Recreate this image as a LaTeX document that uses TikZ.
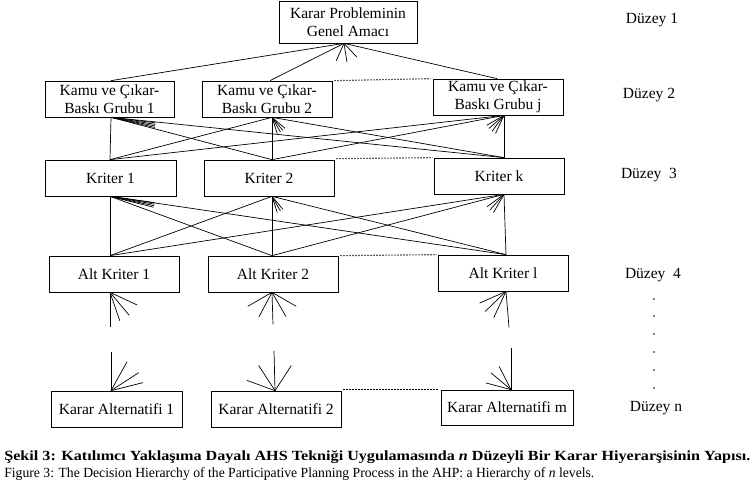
\documentclass[tikz,border=0pt]{standalone}
\usepackage{fontspec}
\setmainfont{Liberation Serif}
\usepackage{graphicx}
\newcommand\fanat[3]{\foreach \a in {#2} {\draw (#1) -- ++(\a:#3);}}
\begin{document}
\begin{tikzpicture}[x=1pt,y=-1pt,
  every path/.style={line width=0.7pt},
  box/.style={draw, line width=0.7pt, inner sep=0pt, align=center, minimum width=130pt, minimum height=36pt, font=\fontsize{15.5}{18}\selectfont},
  lvl/.style={inner sep=0pt, font=\fontsize{15.5}{18}\selectfont},
  dots/.style={dash pattern=on 1.2pt off 1.8pt, line width=1.1pt},
  captext/.style={anchor=west, inner sep=0pt, font=\fontsize{14}{16}\selectfont}]
\useasboundingbox (0,0) rectangle (752,486);
\fill[white] (0,0) rectangle (752,486);

% boxes
\node[box, minimum width=138pt, minimum height=42pt] (t) at (348,22) {Karar Probleminin\\Genel Amacı};
\node[box, minimum width=129pt] (g1) at (109.5,99) {Kamu ve Çıkar-\\Baskı Grubu 1};
\node[box] (g2) at (267,99) {Kamu ve Çıkar-\\Baskı Grubu 2};
\node[box] (gj) at (498,97) {Kamu ve Çıkar-\\Baskı Grubu j};
\node[box, minimum width=131pt] (k1) at (110.5,178) {Kriter 1};
\node[box] (k2) at (269,178) {Kriter 2};
\node[box] (kk) at (499,176) {Kriter k};
\node[box] (a1) at (114,274) {Alt Kriter 1};
\node[box] (a2) at (273,274) {Alt Kriter 2};
\node[box] (al) at (503,273) {Alt Kriter l};
\node[box, minimum width=131pt] (c1) at (116.5,409) {Karar Alternatifi 1};
\node[box] (c2) at (276,409) {Karar Alternatifi 2};
\node[box, minimum width=132pt, minimum height=35pt] (cm) at (507,407.5) {Karar Alternatifi m};

% ports
\coordinate (tS) at ([xshift=-4pt]t.south);
\coordinate (g1N) at ([xshift=1.5pt]g1.north);
\coordinate (g1S) at ([xshift=1.5pt]g1.south);
\coordinate (g2N) at ([xshift=3pt]g2.north);
\coordinate (g2S) at ([xshift=5pt]g2.south);
\coordinate (gjN) at ([xshift=-1pt]gj.north);
\coordinate (gjS) at ([xshift=6pt]gj.south);
\coordinate (k1N) at ([xshift=-0.5pt]k1.north);
\coordinate (k1S) at ([xshift=-0.5pt]k1.south);
\coordinate (k2N) at ([xshift=3pt]k2.north);
\coordinate (k2S) at ([xshift=3pt]k2.south);
\coordinate (kkN) at ([xshift=5pt]kk.north);
\coordinate (kkS) at ([xshift=5pt]kk.south);
\coordinate (a1N) at ([xshift=-4pt]a1.north);
\coordinate (a1S) at ([xshift=-4pt]a1.south);
\coordinate (a2N) at ([xshift=-1pt]a2.north);
\coordinate (a2S) at ([xshift=-1pt]a2.south);
\coordinate (alN) at ([xshift=3pt]al.north);
\coordinate (alS) at ([xshift=3pt]al.south);
\coordinate (c1N) at ([xshift=-5.5pt]c1.north);
\coordinate (c2N) at ([xshift=-1pt]c2.north);
\coordinate (cmN) at ([xshift=4pt]cm.north);

% level 1 -> 2
\foreach \g in {g1N,g2N,gjN} {\draw (tS) -- (\g);}
% level 2 -> 3
\foreach \g in {g1S,g2S,gjS} {\foreach \k in {k1N,k2N,kkN} {\draw (\g) -- (\k);}}
% level 3 -> 4
\foreach \k in {k1S,k2S,kkS} {\foreach \a in {a1N,a2N,alN} {\draw (\k) -- (\a);}}

% stubs between level 4 and n
\coordinate (a1E) at ([yshift=-35pt]a1S);
\coordinate (a2E) at ([xshift=1pt,yshift=-32pt]a2S);
\coordinate (alE) at ([xshift=3pt,yshift=-36pt]alS);
\coordinate (c1E) at ([yshift=39pt]c1N);
\coordinate (c2E) at ([xshift=-1pt,yshift=40pt]c2N);
\coordinate (cmE) at ([yshift=42pt]cmN);
\draw (a1S) -- (a1E);
\draw (a2S) -- (a2E);
\draw (alS) -- (alE);
\draw (c1E) -- (c1N);
\draw (c2E) -- (c2N);
\draw (cmE) -- (cmN);

% fans
\fanat{tS}{114,81,47}{19}
\fanat{g1S}{7,9,11,13}{45}
\fanat{g2S}{40,50,60,72}{17}
\fanat{gjS}{115,127,139,150}{20}
\fanat{k1S}{8,10,12,14}{45}
\fanat{k2S}{50,60,72}{17}
\fanat{kkS}{120,132,144}{21}
\fanat{a1S}{25,50,71}{30}
\fanat{a2S}{30,60,118,150}{28}
\fanat{alS}{115,136,156}{29}
\fanat{c1N}{-61,-33,-14}{33}
\fanat{c2N}{-57,-123,-160}{30}
\fanat{cmN}{195,220,243}{26}

% dotted links
\draw[dots] ([xshift=2pt]g2.north east) -- ([xshift=-2pt]gj.north west);
\draw[dots] ([xshift=2pt,yshift=1pt]k2.north east) -- ([xshift=-1pt]kk.north west);
\draw[dots] ([xshift=2pt]a2.north east) -- ([xshift=-1pt]al.north west);
\draw[dots] ([xshift=2pt,yshift=1pt]c2.north east) -- ([xshift=-3pt]cm.north west);

% level labels
\node[lvl] (d1) at (652,20) {Düzey 1};
\node[lvl] (d2) at (649,95) {Düzey 2};
\node[lvl] (d3) at (649,175) {Düzey\ \ 3};
\node[lvl] (d4) at (653,275) {Düzey\ \ 4};
\foreach \yy in {299,316,334,352,370,388} {\fill (654,\yy) circle (0.8);}
\node[lvl] (dn) at (656,408) {Düzey n};

% caption
\node[captext] (cap1) at (4,457) {\resizebox{746pt}{\height}{\bfseries Şekil 3: Katılımcı Yaklaşıma Dayalı AHS Tekniği Uygulamasında \textit{n} Düzeyli Bir Karar Hiyerarşisinin Yapısı.}};
\node[captext] (cap2) at (4,474) {\resizebox{590pt}{\height}{Figure 3: The Decision Hierarchy of the Participative Planning Process in the AHP: a Hierarchy of \textit{n} levels.}};
\end{tikzpicture}
\end{document}
